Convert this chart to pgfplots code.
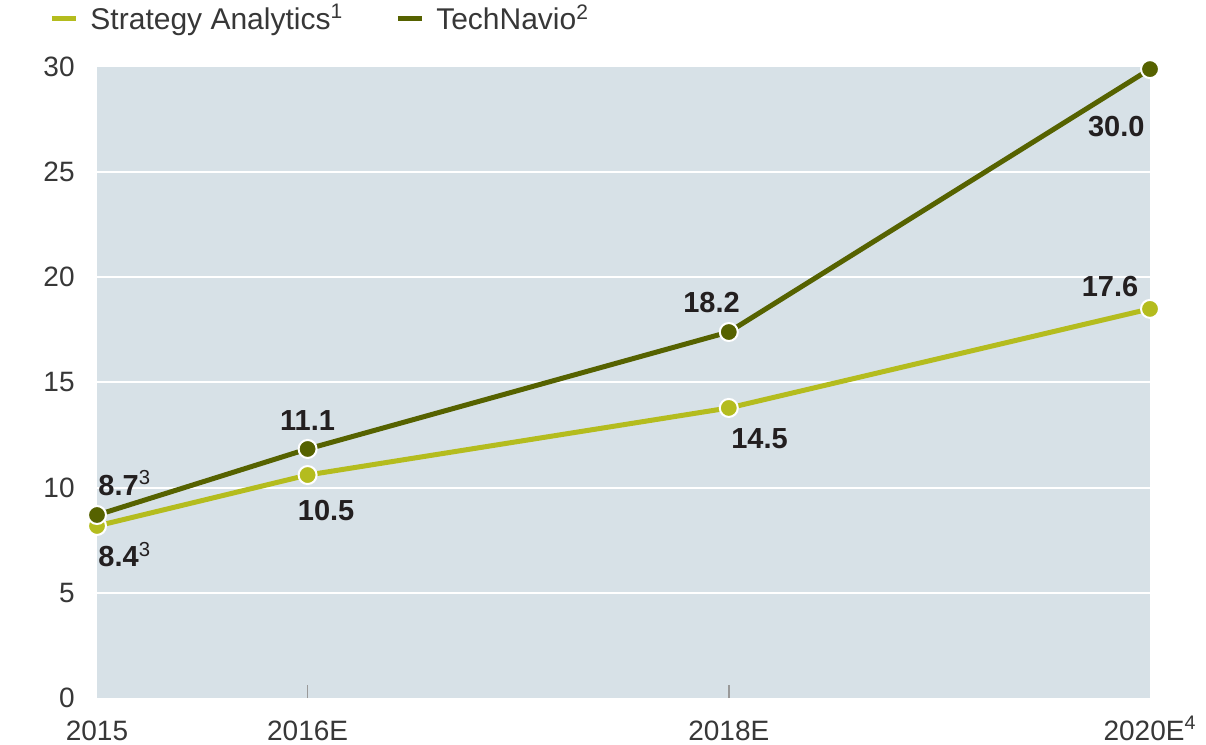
\documentclass[border=0pt]{standalone}
\usepackage{pgfplots}
\pgfplotsset{compat=1.18}
\usepackage{fontspec}
\setmainfont{Liberation Sans}
\definecolor{bgc}{RGB}{215,225,231}
\definecolor{lightg}{RGB}{180,188,30}
\definecolor{darkg}{RGB}{86,98,0}
\definecolor{tickc}{RGB}{55,55,55}
\definecolor{labc}{RGB}{35,31,32}
\begin{document}
\begin{tikzpicture}
\begin{axis}[
  scale only axis,
  width=526.5pt, height=315.5pt,
  xmin=2015, xmax=2020, ymin=0, ymax=30,
  clip=false,
  axis background/.style={fill=bgc},
  axis line style={draw=none},
  major tick length=0pt,
  tick pos=left,
  xtick={2015,2016,2018,2020},
  xticklabels={2015,2016E,2018E,2020E\textsuperscript{4}},
  ytick={0,5,...,30},
  /pgf/number format/assume math mode=true,
  xticklabel style={anchor=base, inner sep=0pt, yshift=-21pt, font=\fontsize{14}{16}\selectfont, text=tickc},
  yticklabel style={anchor=east, inner sep=0pt, xshift=-11pt, font=\fontsize{14}{16}\selectfont, text=tickc},
  extra x ticks={2016,2018},
  extra x tick labels={},
  extra x tick style={major tick length=6.5pt, tick align=inside, major tick style={draw=gray!80, line width=0.8pt}},
  extra y ticks={5,10,15,20,25},
  extra y tick labels={},
  extra y tick style={grid=major, major grid style={white, line width=1pt}},
  legend style={at={(-0.0455,1.077)}, anchor=west, draw=none, fill=none, inner sep=0pt,
    font=\fontsize{15}{17}\selectfont, text=tickc,
    nodes={inner sep=0pt},
    /tikz/every odd column/.append style={column sep=6pt},
    /tikz/every even column/.append style={column sep=26pt}},
  legend columns=-1,
  legend image code/.code={\draw[#1, line width=2.5pt] (0pt,0pt) -- (12pt,0pt);},
]
\addplot[color=lightg, line width=2.5pt, mark=*, mark size=4.5pt,
  mark options={fill=lightg, draw=white, line width=1pt}]
  coordinates {(2015,8.18) (2016,10.60) (2018,13.79) (2020,18.50)};
\addlegendentry{Strategy Analytics\textsuperscript{1}}
\addplot[color=darkg, line width=2.5pt, mark=*, mark size=4.5pt,
  mark options={fill=darkg, draw=white, line width=1pt}]
  coordinates {(2015,8.70) (2016,11.84) (2018,17.40) (2020,29.90)};
\addlegendentry{TechNavio\textsuperscript{2}}
\begin{scope}[every node/.style={inner sep=0pt, text=labc, font=\fontsize{14.5}{16}\selectfont\bfseries}]
\node[anchor=base west] at (axis cs:2015.005,9.65) {8.7\textsuperscript{\mdseries 3}};
\node[anchor=base west] at (axis cs:2015.005,6.23) {8.4\textsuperscript{\mdseries 3}};
\node[anchor=base] at (axis cs:2016.088,8.46) {10.5};
\node[anchor=base] at (axis cs:2016.0,12.70) {11.1};
\node[anchor=base] at (axis cs:2017.918,18.35) {18.2};
\node[anchor=base] at (axis cs:2018.146,11.84) {14.5};
\node[anchor=base] at (axis cs:2019.81,19.07) {17.6};
\node[anchor=base] at (axis cs:2019.84,26.68) {30.0};
\end{scope}
\end{axis}
\path ([xshift=-48.5pt,yshift=-23.5pt]current axis.south west) -- ([xshift=28pt,yshift=33.5pt]current axis.north east);
\end{tikzpicture}
\end{document}
